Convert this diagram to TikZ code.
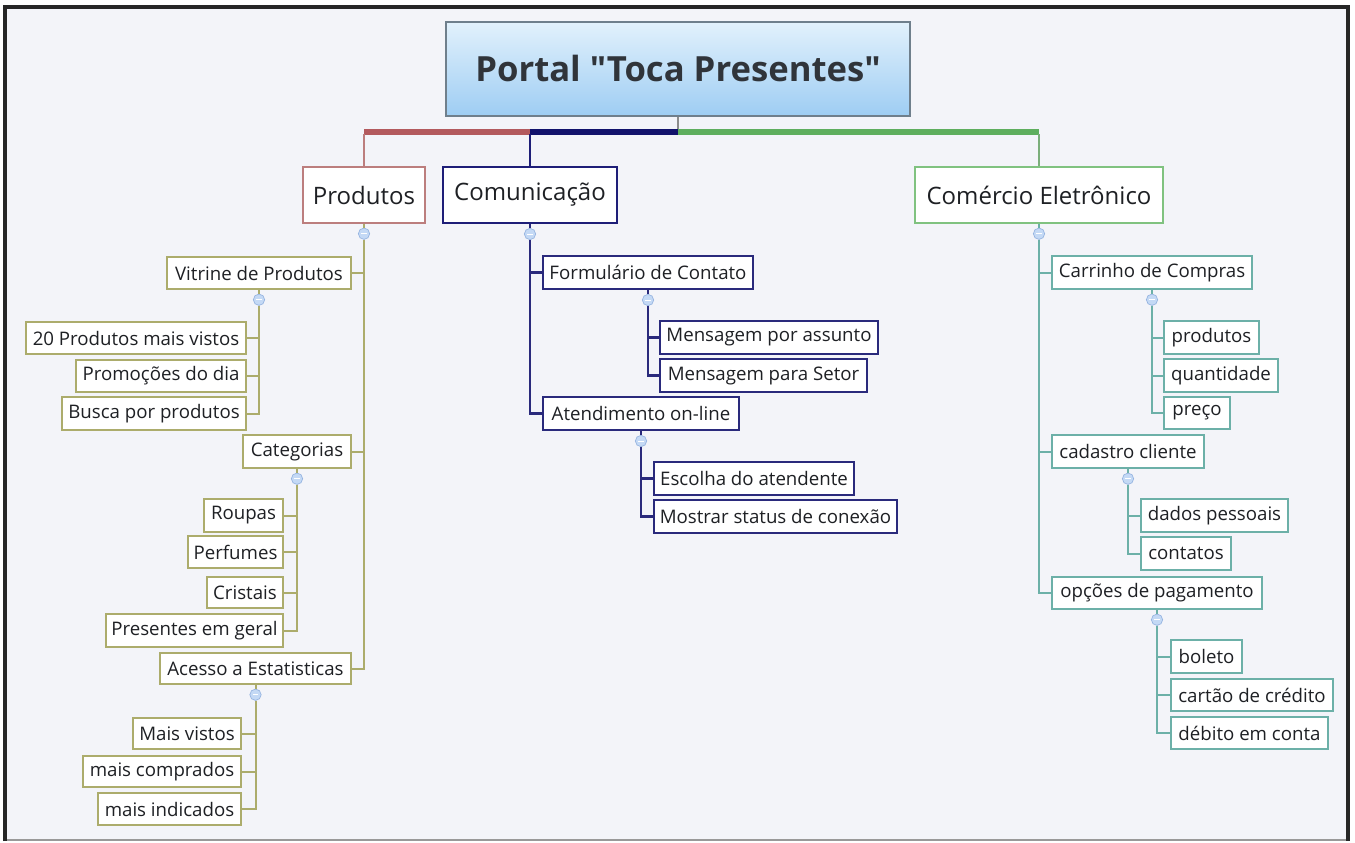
\documentclass[tikz,border=0pt]{standalone}
\usepackage{fontspec}
\setmainfont{Open Sans}[Ligatures=TeXOff]
\usetikzlibrary{shadows}

\definecolor{paper}{HTML}{F3F4F9}
\definecolor{ink}{HTML}{1E2024}
\definecolor{titleink}{HTML}{30343A}
\definecolor{titletop}{HTML}{E2F1FC}
\definecolor{titlebot}{HTML}{9ECDF3}
\definecolor{titleedge}{HTML}{6F7F8C}
\definecolor{barred}{HTML}{B35A5E}
\definecolor{barnavy}{HTML}{12126C}
\definecolor{bargreen}{HTML}{5EAE5E}
\definecolor{prodedge}{HTML}{BC7E7E}
\definecolor{comuedge}{HTML}{1E1E78}
\definecolor{comeedge}{HTML}{80C280}
\definecolor{olive}{HTML}{ACAC6C}
\definecolor{navy}{HTML}{2A2A7C}
\definecolor{teal}{HTML}{6CB0A8}
\definecolor{togfill}{HTML}{C4D9F5}
\definecolor{togedge}{HTML}{94B3E0}

\tikzset{
  sz/.style 2 args={minimum width=#1*0.75pt, minimum height=#2*0.75pt},
  boxbase/.style={draw, fill=white, inner sep=0pt, text=ink,
    drop shadow={shadow xshift=1pt, shadow yshift=-1pt, fill=black, opacity=.14}},
  topic/.style={boxbase, line width=1.1pt, font=\fontsize{18}{21}\selectfont},
  sub/.style={boxbase, line width=1.1pt, font=\fontsize{14}{17}\selectfont},
  subolive/.style={sub, draw=olive},
  subnavy/.style={sub, draw=navy, line width=1.5pt},
  subteal/.style={sub, draw=teal},
  tog/.style={circle, inner sep=0pt, minimum size=8.5pt, fill=togfill, draw=togedge,
    line width=0.5pt,
    path picture={\draw[white, line width=0.7pt]
      ([xshift=-2pt]path picture bounding box.center) --
      ([xshift=2pt]path picture bounding box.center);}},
  oliveline/.style={draw=olive, line width=1.5pt},
  navyline/.style={draw=navy, line width=1.9pt},
  tealline/.style={draw=teal, line width=1.5pt},
}

\begin{document}
\begin{tikzpicture}[x=0.75pt, y=-0.75pt]
\useasboundingbox (0,0) rectangle (1355,842);

% canvas and frame
\fill[paper] (6,7) rectangle (1347,840);
\draw[black!40, line width=0.8pt] (5,840) -- (1348,840);
\draw[black!85, line width=2.4pt] (5,841) -- (5,7) -- (1348,7) -- (1348,841);

% central topic
\node[draw=titleedge, line width=0.8pt, top color=titletop, bottom color=titlebot,
      sz={464}{94}, text=titleink, font=\fontsize{26}{30}\selectfont\bfseries,
      drop shadow={shadow xshift=1pt, shadow yshift=-1pt, fill=black, opacity=.12}]
  (title) at (678,69) {Portal "Toca Presentes"};

% main topics
\node[topic, draw=prodedge, sz={122}{56}] (prod) at (364,195) {Produtos};
\node[topic, draw=comuedge, line width=1.5pt, sz={174}{56}] (comu) at (530,195) {Comunicação};
\node[topic, draw=comeedge, sz={248}{56}] (come) at (1039,195) {Comércio Eletrônico};

% Produtos
\node[subolive, sz={184}{32}] (vitrine) at (259,273) {Vitrine de Produtos};
\node[subolive, sz={220}{32}] (p20) at (136,338) {20 Produtos mais vistos};
\node[subolive, sz={170}{32}] (promo) at (161,376) {Promoções do dia};
\node[subolive, sz={184}{33}] (busca) at (154,413.5) {Busca por produtos};
\node[subolive, sz={108}{33}] (categ) at (297,451.5) {Categorias};
\node[subolive, sz={79}{33}] (roupas) at (243.5,515.5) {Roupas};
\node[subolive, sz={95}{32}] (perf) at (235.5,552) {Perfumes};
\node[subolive, sz={76}{31}] (crist) at (245,592.5) {Cristais};
\node[subolive, sz={177}{33}] (pres) at (194.5,630.5) {Presentes em geral};
\node[subolive, sz={191}{31}] (acesso) at (255.5,668.5) {Acesso a Estatisticas};
\node[subolive, sz={108}{31}] (maisv) at (187,733.5) {Mais vistos};
\node[subolive, sz={158}{31}] (maisc) at (162,771.5) {mais comprados};
\node[subolive, sz={143}{32}] (maisi) at (169.5,809) {mais indicados};

% Comunicação
\node[subnavy, sz={210}{33}] (form) at (648,272.5) {Formulário de Contato};
\node[subnavy, sz={218}{33}] (msga) at (769,337.5) {Mensagem por assunto};
\node[subnavy, sz={207}{33}] (msgs) at (763.5,375.5) {Mensagem para Setor};
\node[subnavy, sz={196}{33}] (atend) at (641,413.5) {Atendimento on-line};
\node[subnavy, sz={200}{33}] (esc) at (754,478.5) {Escolha do atendente};
\node[subnavy, sz={243}{33}] (most) at (775.5,516.5) {Mostrar status de conexão};

% Comércio Eletrônico
\node[subteal, sz={200}{33}] (carr) at (1152,272.5) {Carrinho de Compras};
\node[subteal, sz={95}{33}] (cprod) at (1211.5,337.5) {produtos};
\node[subteal, sz={114}{33}] (qtd) at (1221,375.5) {quantidade};
\node[subteal, sz={66}{32}] (preco) at (1197,413) {preço};
\node[subteal, sz={152}{33}] (cad) at (1128,451.5) {cadastro cliente};
\node[subteal, sz={147}{33}] (dados) at (1214.5,515.5) {dados pessoais};
\node[subteal, sz={90}{33}] (contat) at (1186,553.5) {contatos};
\node[subteal, sz={210}{32}] (opc) at (1157,593) {opções de pagamento};
\node[subteal, sz={71}{33}] (boleto) at (1206.5,656.5) {boleto};
\node[subteal, sz={162}{32}] (cartao) at (1252,695) {cartão de crédito};
\node[subteal, sz={157}{32}] (debito) at (1249.5,733) {débito em conta};

% collapse toggles
\foreach \n in {prod,comu,come,vitrine,categ,acesso,form,atend,carr,cad,opc}
  \node[tog] (\n T) at ([yshift=-7.5pt]\n.south) {};

% branch bar under the central topic
\coordinate (hub) at ([yshift=-11.25pt]title.south);
\draw[black!45, line width=0.8pt] (title.south) -- (hub);
\draw[barred, line width=4.5pt] (hub -| prod.north) -- (hub -| comu.north);
\draw[barnavy, line width=4.5pt] (hub -| comu.north) -- (hub);
\draw[bargreen, line width=4.5pt] (hub) -- (hub -| come.north);
\draw[prodedge, line width=1.1pt] ([yshift=-2.2pt]hub -| prod.north) -- (prod.north);
\draw[comuedge, line width=1.5pt] ([yshift=-2.2pt]hub -| comu.north) -- (comu.north);
\draw[comeedge!85!black!90, line width=1.1pt] ([yshift=-2.2pt]hub -| come.north) -- (come.north);

% Produtos connectors
\foreach \p/\kids in {prod/{vitrine,categ,acesso}, vitrine/{p20,promo,busca},
                      categ/{roupas,perf,crist,pres}, acesso/{maisv,maisc,maisi}} {
  \draw[oliveline] (\p.south) -- (\p T.north);
  \foreach \k in \kids \draw[oliveline] (\p T.south) |- (\k.east);
}

% Comunicação connectors
\foreach \p/\kids in {comu/{form,atend}, form/{msga,msgs}, atend/{esc,most}} {
  \draw[navyline] (\p.south) -- (\p T.north);
  \foreach \k in \kids \draw[navyline] (\p T.south) |- (\k.west);
}

% Comércio Eletrônico connectors
\foreach \p/\kids in {come/{carr,cad,opc}, carr/{cprod,qtd,preco},
                      cad/{dados,contat}, opc/{boleto,cartao,debito}} {
  \draw[tealline] (\p.south) -- (\p T.north);
  \foreach \k in \kids \draw[tealline] (\p T.south) |- (\k.west);
}
\end{tikzpicture}
\end{document}
